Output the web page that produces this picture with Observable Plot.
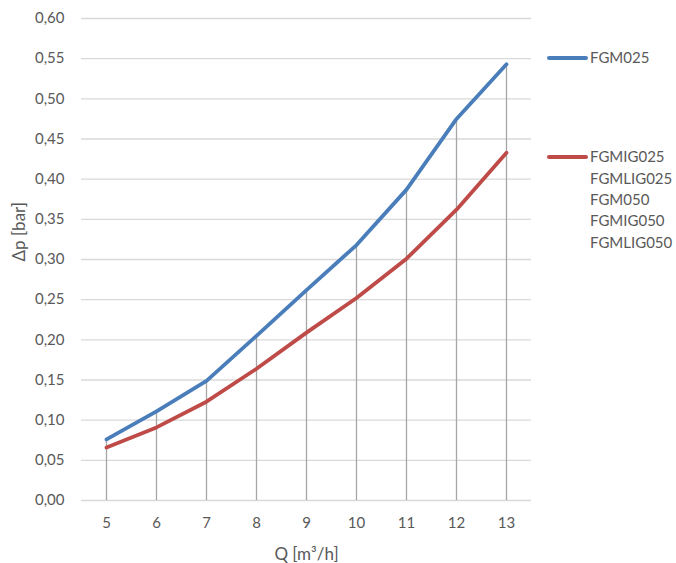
<!DOCTYPE html>
<html>
<head>
<meta charset="utf-8">
<script src="https://cdn.jsdelivr.net/npm/d3@7"></script>
<script src="https://cdn.jsdelivr.net/npm/@observablehq/plot@0.6"></script>
<style>
  html, body { margin: 0; padding: 0; background: #fff; }
  #wrap { position: relative; width: 676px; height: 563px; font-family: Lato, "Open Sans", sans-serif; }
  .leg { position: absolute; font-size: 15px; color: #595959; line-height: 21.3px; white-space: nowrap; }
  .sw { position: absolute; height: 4px; border-radius: 2px; }
</style>
</head>
<body>
<div id="wrap"></div>
<script>
const flow = [5, 6, 7, 8, 9, 10, 11, 12, 13];
const fgm025 = [0.076, 0.111, 0.149, 0.205, 0.262, 0.318, 0.387, 0.475, 0.543];
const fgmig025 = [0.066, 0.091, 0.123, 0.164, 0.209, 0.252, 0.301, 0.362, 0.433];
const yTicks = [0, 0.05, 0.10, 0.15, 0.20, 0.25, 0.30, 0.35, 0.40, 0.45, 0.50, 0.55, 0.60];
const seriesNames = ["FGM025", "FGMIG025"];
const redLegendNames = ["FGMIG025", "FGMLIG025", "FGM050", "FGMIG050", "FGMLIG050"];
const colors = ["#4a7ebb", "#be4b48"];
const xTitle = "Q [m³/h]";
const yTitle = "Δp [bar]";

const data = [];
flow.forEach((q, i) => {
  data.push({q, dp: fgm025[i], s: seriesNames[0]});
  data.push({q, dp: fgmig025[i], s: seriesNames[1]});
});
const drops = flow.map((q, i) => ({q, top: Math.max(fgm025[i], fgmig025[i])}));

const fmt = v => v.toFixed(2).replace(".", ",");
const txt = "#595959";

const chart = Plot.plot({
  width: 676,
  height: 563,
  marginLeft: 81,
  marginRight: 145,
  marginTop: 18,
  marginBottom: 63,
  style: {fontFamily: "Lato, 'Open Sans', sans-serif", fontSize: "15px", color: txt, background: "#fff"},
  x: {domain: [4.5, 13.5]},
  y: {domain: [0, 0.6]},
  color: {domain: seriesNames, range: colors},
  marks: [
    Plot.ruleY(yTicks, {stroke: "#d9d9d9", strokeWidth: 1.3}),
    Plot.ruleX(drops, {x: "q", y1: 0, y2: "top", stroke: "#a6a6a6", strokeWidth: 1.3}),
    Plot.line(data, {x: "q", y: "dp", z: "s", stroke: "s", strokeWidth: 3.8, strokeLinecap: "round", strokeLinejoin: "round"}),
    Plot.axisX(flow, {tickFormat: d => String(d), tickSize: 0, tickPadding: 17, fontSize: 15, fill: txt, label: null}),
    Plot.axisY(yTicks, {tickFormat: fmt, tickSize: 0, tickPadding: 17, fontSize: 15, fill: txt, label: null}),
    Plot.text([xTitle], {text: d => d, frameAnchor: "bottom", lineAnchor: "middle", dy: 54, fontSize: 17, fill: txt}),
    Plot.text([yTitle], {text: d => d, frameAnchor: "left", lineAnchor: "middle", rotate: -90, dx: -62, dy: 2, fontSize: 17, fill: txt})
  ]
});

const wrap = document.getElementById("wrap");
wrap.appendChild(chart);

function addLegend(color, names, top) {
  const sw = document.createElement("div");
  sw.className = "sw";
  sw.style.left = "547px"; sw.style.width = "41px";
  sw.style.top = (top - 2) + "px";
  sw.style.background = color;
  wrap.appendChild(sw);
  const t = document.createElement("div");
  t.className = "leg";
  t.style.left = "590px";
  t.style.top = (top - 10.6) + "px";
  t.innerHTML = names.join("<br>");
  wrap.appendChild(t);
}
addLegend(colors[0], [seriesNames[0]], 58);
addLegend(colors[1], redLegendNames, 157);
</script>
</body>
</html>
